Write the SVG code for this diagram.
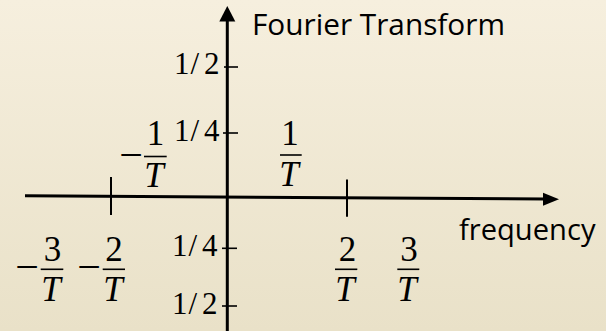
<svg xmlns="http://www.w3.org/2000/svg" width="606" height="331" viewBox="0 0 606 331">
<defs>
<linearGradient id="bg" x1="0" y1="0" x2="0" y2="1">
<stop offset="0" stop-color="#f6efde"/>
<stop offset="1" stop-color="#e9e1c8"/>
</linearGradient>
<style>
.sans{font-family:"Open Sans","Liberation Sans",sans-serif;font-size:30px;fill:#000}
.num{font-family:"Liberation Serif","Times New Roman",serif;font-size:35px;fill:#000;text-anchor:middle}
.minus{font-size:42px}
.it{font-style:italic}
.lab{font-family:"Liberation Serif","Times New Roman",serif;font-size:31px;fill:#000}
.axis{stroke:#000;stroke-width:3;fill:none}
.tick{stroke:#000;stroke-width:2;fill:none}
.ytick{stroke:#000;stroke-width:1.6;fill:none}
.bar{stroke:#000;stroke-width:1.6;fill:none}
</style>
</defs>
<rect x="0" y="0" width="606" height="331" fill="url(#bg)"/>
<g id="axes">
<line class="axis" x1="25" y1="195.8" x2="546" y2="198.9"/>
<polygon points="559,199.2 543,192.7 543,205.7" fill="#000"/>
<line class="axis" x1="227.3" y1="20" x2="227.3" y2="331"/>
<polygon points="227.3,6 219.3,21.5 235.3,21.5" fill="#000"/>
</g>
<g id="ticks">
<line class="tick" x1="111" y1="177" x2="111" y2="215"/>
<line class="tick" x1="347" y1="179.5" x2="347" y2="216.7"/>
<line class="ytick" x1="224" y1="67" x2="238" y2="67"/>
<line class="ytick" x1="223" y1="133" x2="238" y2="133"/>
<line class="ytick" x1="222" y1="248.3" x2="237" y2="248.3"/>
<line class="ytick" x1="222" y1="306" x2="237" y2="306"/>
</g>
<g id="titles">
<text class="sans" x="252" y="35" textLength="253" lengthAdjust="spacingAndGlyphs">Fourier Transform</text>
<text class="sans" x="459" y="240" textLength="136.5" lengthAdjust="spacingAndGlyphs">frequency</text>
</g>
<g id="ylabels">
<text class="lab" x="174 190.5 204" y="74">1/2</text>
<text class="lab" x="174 190.5 204" y="141">1/4</text>
<text class="lab" x="172 188.5 202" y="256">1/4</text>
<text class="lab" x="172 188.5 202" y="314">1/2</text>
</g>
<g id="frac-m1">
<text class="num minus" x="131" y="168.5">−</text>
<text class="num" x="155.5" y="145">1</text>
<line class="bar" x1="144" y1="156.5" x2="166.7" y2="156.5"/>
<text class="num it" x="154" y="187">T</text>
</g>
<g id="frac-p1">
<text class="num" x="290" y="145">1</text>
<line class="bar" x1="280" y1="155" x2="301.7" y2="155"/>
<text class="num it" x="289" y="186">T</text>
</g>
<g id="frac-m3">
<text class="num minus" x="27" y="281">−</text>
<text class="num" x="52.5" y="260.5">3</text>
<line class="bar" x1="40.7" y1="269.3" x2="63.3" y2="269.3"/>
<text class="num it" x="51" y="301">T</text>
</g>
<g id="frac-m2">
<text class="num minus" x="89" y="281">−</text>
<text class="num" x="114" y="260.5">2</text>
<line class="bar" x1="102.7" y1="269.3" x2="125" y2="269.3"/>
<text class="num it" x="113" y="301">T</text>
</g>
<g id="frac-p2">
<text class="num" x="347.5" y="260.5">2</text>
<line class="bar" x1="335" y1="269.3" x2="357.3" y2="269.3"/>
<text class="num it" x="345" y="301">T</text>
</g>
<g id="frac-p3">
<text class="num" x="409" y="260.5">3</text>
<line class="bar" x1="397.3" y1="269.3" x2="419.3" y2="269.3"/>
<text class="num it" x="407" y="301">T</text>
</g>
</svg>
